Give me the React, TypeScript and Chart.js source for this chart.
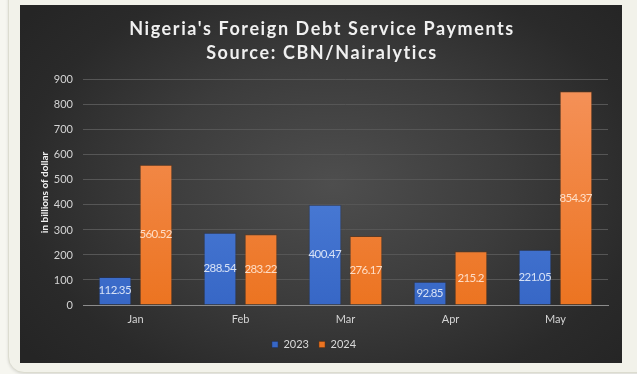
import React, { useEffect, useRef } from "react";
import { Chart, registerables } from "chart.js";

Chart.register(...registerables);

const categories = ["Jan", "Feb", "Mar", "Apr", "May"];
const series2023 = [112.35, 288.54, 400.47, 92.85, 221.05];
const series2024 = [560.52, 283.22, 276.17, 215.2, 854.37];
const titleLines = ["Nigeria's Foreign Debt Service Payments", "Source: CBN/Nairalytics"];
const yAxisTitle = "in billions of dollar";

const FONT = "Lato, 'DejaVu Sans', sans-serif";

const dataLabelPlugin = {
  id: "dataLabels",
  afterDatasetsDraw(chart: any) {
    const ctx = chart.ctx;
    ctx.save();
    ctx.font = `11.5px ${FONT}`;
    (ctx as any).letterSpacing = "-0.6px";
    ctx.textAlign = "center";
    ctx.textBaseline = "middle";
    chart.data.datasets.forEach((ds: any, di: number) => {
      const meta = chart.getDatasetMeta(di);
      meta.data.forEach((bar: any, i: number) => {
        const v = ds.data[i];
        ctx.fillStyle = di === 0 ? "rgba(228,235,250,0.92)" : "rgba(255,230,212,0.92)";
        ctx.fillText(String(v), bar.x - 0.3, (bar.y + bar.base) / 2);
      });
    });
    ctx.restore();
  },
};

const titleSpacingPlugin = {
  id: "titleSpacing",
  afterLayout(chart: any) {
    const tb = chart.titleBlock;
    if (tb && !tb.__wrapped) {
      const orig = tb.draw.bind(tb);
      tb.draw = (...args: any[]) => {
        const c = chart.ctx;
        c.save();
        c.translate(8, 0);
        (c as any).letterSpacing = "1.6px";
        orig(...args);
        c.restore();
      };
      tb.__wrapped = true;
    }
  },
};

function grad(chart: any, top: string, bottom: string) {
  const area = chart.chartArea;
  if (!area) return top;
  const g = chart.ctx.createLinearGradient(0, area.top, 0, area.bottom);
  g.addColorStop(0, top);
  g.addColorStop(1, bottom);
  return g;
}

export default function App() {
  const ref = useRef<HTMLCanvasElement | null>(null);
  useEffect(() => {
    if (!ref.current) return;
    const chart = new Chart(ref.current, {
      type: "bar",
      data: {
        labels: categories,
        datasets: [
          {
            label: "2023",
            data: series2023,
            backgroundColor: (c: any) => grad(c.chart, "#5a8ce2", "#3767c6"),
            borderColor: "rgba(30,50,100,0.5)",
            borderWidth: 1,
            categoryPercentage: 0.78,
            barPercentage: 0.8,
          },
          {
            label: "2024",
            data: series2024,
            backgroundColor: (c: any) => grad(c.chart, "#f5925a", "#ec7421"),
            borderColor: "rgba(110,50,10,0.5)",
            borderWidth: 1,
            categoryPercentage: 0.78,
            barPercentage: 0.8,
          },
        ],
      },
      options: {
        animation: false,
        responsive: false,
        maintainAspectRatio: false,
        layout: { padding: { left: 0, right: 14, top: 0, bottom: 3 } },
        plugins: {
          title: {
            display: true,
            text: titleLines,
            color: "#f0f0f0",
            font: { family: FONT, size: 18, weight: "bold", lineHeight: 1.33 },
            padding: { top: 12, bottom: 15 },
          },
          legend: {
            display: true,
            position: "bottom",
            labels: {
              color: "#d9d9d9",
              font: { family: FONT, size: 11 },
              boxWidth: 6,
              boxHeight: 6,
              padding: 10,
            },
          },
          tooltip: { enabled: false },
        },
        scales: {
          x: {
            grid: { display: false, drawTicks: false },
            border: { display: true, color: "#8c8c8c", width: 1 },
            ticks: { color: "#d4d4d4", font: { family: FONT, size: 11 }, padding: 8 },
            afterFit(scale: any) {
              scale.height = 24;
            },
          },
          y: {
            min: 0,
            max: 900,
            ticks: { stepSize: 100, color: "#d4d4d4", font: { family: FONT, size: 11 }, padding: 10 },
            grid: { color: "#565656", lineWidth: 1, drawTicks: false },
            border: { display: false },
            title: {
              display: true,
              text: yAxisTitle,
              color: "#f0f0f0",
              font: { family: FONT, size: 10, weight: "bold" },
              padding: { top: 19, bottom: 0 },
            },
            afterFit(scale: any) {
              scale.width = 63;
            },
          },
        },
      },
      plugins: [dataLabelPlugin, titleSpacingPlugin],
    } as any);
    return () => chart.destroy();
  }, []);

  return (
    <div
      style={{
        position: "fixed",
        left: 0,
        top: 0,
        width: 637,
        height: 374,
        background: "#f6f6f0",
        overflow: "hidden",
      }}
    >
      <div
        style={{
          position: "absolute",
          left: 8,
          top: -20,
          width: 680,
          height: 391,
          background: "#f2f2ea",
          border: "1px solid #dcdcd0",
          borderRadius: 16,
          boxShadow: "0 1px 3px rgba(0,0,0,0.12)",
        }}
      />
      <div
        style={{
          position: "absolute",
          left: 20,
          top: 5,
          width: 602,
          height: 358,
          background:
            "radial-gradient(ellipse 65% 75% at 52% 50%, #4e4e4e 0%, #3c3c3c 45%, #2a2a2a 80%, #252525 100%)",
        }}
      >
        <canvas ref={ref} width={602} height={358} style={{ display: "block" }} />
      </div>
    </div>
  );
}
